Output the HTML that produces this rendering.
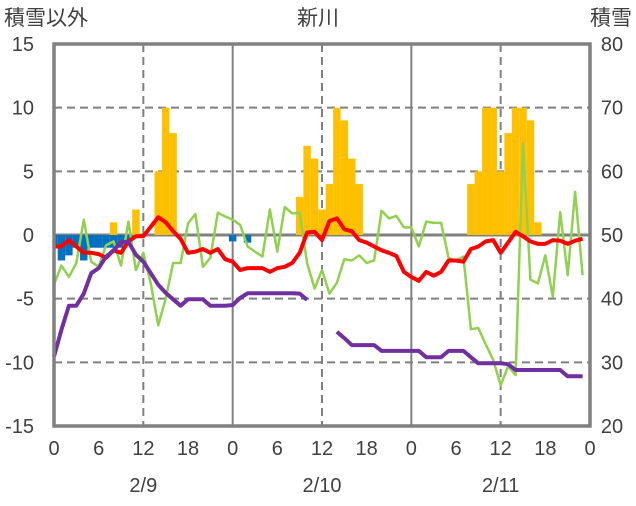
<!DOCTYPE html>
<html><head><meta charset="utf-8"><style>
body{margin:0;background:#fff;}
svg text{font-family:"Liberation Sans","Noto Sans CJK JP",sans-serif;fill:#404040;}
</style></head><body>
<svg id="c" width="636" height="501" xmlns="http://www.w3.org/2000/svg">
<g id="grid"></g><g id="bars"></g><g id="lines"></g><g id="axes"></g>
</svg>
<script>
const hours = 72;
const snowfall = [0,0,0,0,0,0,0,0,1,0,0,2,0,0,5,10,8,0,0,0,0,0,0,0, 0,0,0,0,0,0,0,0,0,3,7,6,2,4,10,9,6,4,0,0,0,0,0,0, 0,0,0,0,0,0,0,0,4,5,10,10,5,8,10,10,9,1,0,0,0,0,0,0];
const melt = [-1,-2,-1.6,-1,-2,-1,-1,-1,-1,-1,-0.5,0,0,0,0,0,0,0,0,0,0,0,0,0, -0.5,0,-0.6,0,0,0,0,0,0,0,0,0,0,0,0,0,0,0,0,0,0,0,0,0, 0,0,0,0,0,0,0,0,0,0,0,0,0,0,0,0,0,0,0,0,0,0,0,0];
const redSeries = [-0.9,-0.9,-0.4,-0.9,-1.4,-1.4,-1.5,-1.8,-1.2,-1.4,-0.5,-0.1,-0.1,0.65,1.4,1.0,0.3,-0.3,-1.4,-1.3,-1.1,-1.4,-1.1,-1.9,
 -2.1,-2.75,-2.6,-2.6,-2.6,-2.9,-2.6,-2.5,-2.2,-1.4,0.2,0.25,-0.4,1.1,1.3,0.45,0.3,-0.4,-0.6,-0.9,-1.2,-1.4,-1.65,-2.9,
 -3.3,-3.6,-2.9,-3.2,-2.9,-2.0,-2.0,-2.1,-1.1,-0.9,-0.5,-0.4,-1.4,-0.6,0.25,-0.1,-0.5,-0.7,-0.7,-0.4,-0.45,-0.7,-0.45,-0.3];
const greenSeries = [-3.9,-2.4,-3.3,-2.2,1.2,-2.1,-2.5,-0.8,-0.5,-2.4,1.05,-2.75,-1.4,-3.8,-7.1,-5.0,-2.2,-2.2,0.9,1.65,-2.5,-1.8,1.75,1.45,
 1.2,0.8,-0.9,-1.3,-1.7,2.0,-1.3,2.2,1.7,1.75,-2.2,-4.2,-2.75,-4.6,-3.75,-1.9,-2.0,-1.6,-2.2,-2.0,1.9,1.3,1.5,0.6,
 0.6,-0.9,1.05,0.95,0.95,-1.8,-2.0,-1.7,-7.4,-7.3,-8.6,-9.8,-11.8,-10.3,-11,7.2,-3.5,-3.8,-1.6,-4.85,1.8,-3.15,3.4,-3.15];
const snowDepth = [30.9,35.1,38.9,38.9,40.8,44,44.8,46.6,47.6,48.9,48.9,46.9,45.8,44,42.2,40.9,39.9,38.9,39.9,39.9,39.9,38.9,38.9,38.9,
 39,40.1,40.85,40.85,40.85,40.85,40.85,40.85,40.85,40.8,39.8,null,null,null,34.8,33.8,32.7,32.7,32.7,32.7,31.8,31.8,31.8,31.8,
 31.8,31.8,30.8,30.8,30.8,31.8,31.8,31.8,30.8,29.85,29.85,29.85,29.85,29.7,28.8,28.8,28.8,28.8,28.8,28.8,28.8,27.8,27.8,27.8];
const leftTicks = [15,10,5,0,-5,-10,-15];
const rightTicks = [80,70,60,50,40,30,20];
const hourLabels = ["0","6","12","18","0","6","12","18","0","6","12","18","0"];
const dateLabels = ["2/9","2/10","2/11"];

const X0=54,X1=590,Y0=44,Y1=426;
const xs=h=>X0+(X1-X0)*h/hours;
const yl=v=>Y0+(15-v)/30*(Y1-Y0);
const yr=v=>Y0+(80-v)/60*(Y1-Y0);
const NS="http://www.w3.org/2000/svg";
function mk(parent,tag,attrs){const e=document.createElementNS(NS,tag);for(const k in attrs)e.setAttribute(k,attrs[k]);document.getElementById(parent).appendChild(e);return e;}

// grid
leftTicks.forEach(v=>{ if(v===0||v===15||v===-15)return;
 const e=mk('grid','line',{x1:X0,x2:X1,y1:yl(v),y2:yl(v),stroke:'#808080','stroke-width':2,'stroke-dasharray':'8,5'});
 
 });
for(let h=6;h<hours;h+=6){ if(h%12!==0)continue;
 const day=h%24===0;
 const e=mk('grid','line',{x1:xs(h),x2:xs(h),y1:Y0,y2:Y1,stroke:'#808080','stroke-width':2,'stroke-dasharray':day?'none':'8,5'});
 
 }

// bars
const bw=(X1-X0)/hours;
snowfall.forEach((v,i)=>{ if(!v)return;
 const x=Math.max(X0,xs(i)-bw/2),x2=Math.min(X1,xs(i)+bw/2);
 const e=mk('bars','rect',{x:x,y:yl(v),width:x2-x,height:yl(0)-yl(v),fill:'#ffc000'});
 
 });
melt.forEach((v,i)=>{ if(!v)return;
 const x=Math.max(X0,xs(i)-bw/2),x2=Math.min(X1,xs(i)+bw/2);
 const e=mk('bars','rect',{x:x,y:yl(0),width:x2-x,height:yl(v)-yl(0),fill:'#0070c0'});
 
 });

// zero line
const z=mk('grid','line',{x1:X0,x2:X1,y1:yl(0),y2:yl(0),stroke:'#808080','stroke-width':3});



function path(arr,yf){let d='',pen=false;arr.forEach((v,i)=>{if(v===null){pen=false;return;}d+=(pen?'L':'M')+xs(i).toFixed(1)+','+yf(v).toFixed(1);pen=true;});return d;}
const g=mk('lines','path',{d:path(greenSeries,yl),fill:'none',stroke:'#92d050','stroke-width':2.5,'stroke-linejoin':'round'});


const r=mk('lines','path',{d:path(redSeries,yl),fill:'none',stroke:'#ff0000','stroke-width':4,'stroke-linejoin':'round'});


const p=mk('lines','path',{d:path(snowDepth,yr),fill:'none',stroke:'#7030a0','stroke-width':4,'stroke-linejoin':'round'});



// frame
const f=mk('axes','rect',{x:X0,y:Y0,width:X1-X0,height:Y1-Y0,fill:'none',stroke:'#808080','stroke-width':3.5});



// ticks
leftTicks.forEach(v=>{const t=mk('axes','text',{x:34,y:yl(v)+7,'text-anchor':'end','font-size':20});t.textContent=v;
 
 });
rightTicks.forEach(v=>{const t=mk('axes','text',{x:612,y:yr(v)+7,'text-anchor':'middle','font-size':20});t.textContent=v;
 
 });
hourLabels.forEach((s,i)=>{const t=mk('axes','text',{x:xs(i*6),y:455,'text-anchor':'middle','font-size':20});t.textContent=s;
 
 });
dateLabels.forEach((s,i)=>{const t=mk('axes','text',{x:xs(i*24+12),y:492,'text-anchor':'middle','font-size':20});t.textContent=s;
 
 });
[["積雪以外",4,'start','left-axis-title'],["新川",318,'middle','chart-title'],["積雪",632,'end','right-axis-title']].forEach(a=>{
 const t=mk('axes','text',{x:a[1],y:25,'text-anchor':a[2],'font-size':21});t.textContent=a[0];
 
 });
</script>
</body></html>
